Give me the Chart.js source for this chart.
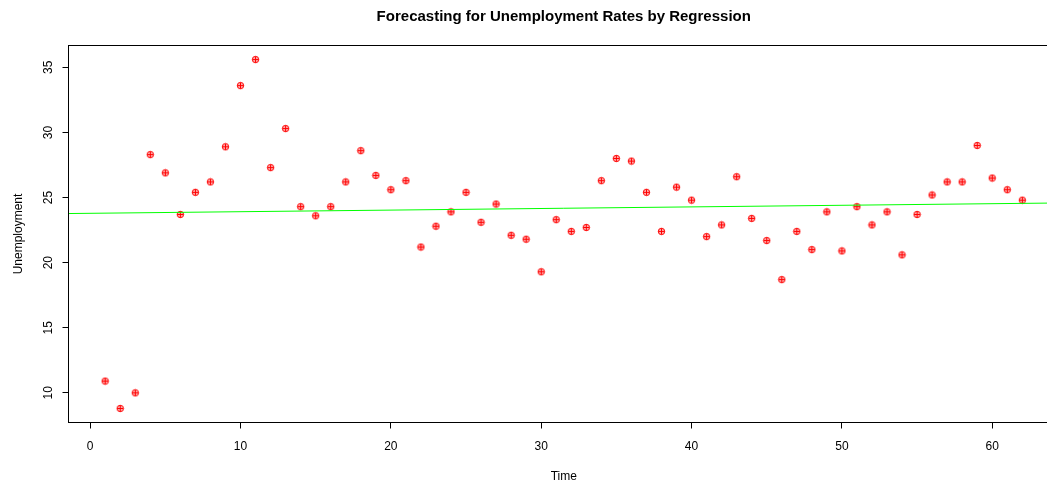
<!DOCTYPE html>
<html>
<head>
<meta charset="utf-8">
<script src="https://cdn.jsdelivr.net/npm/chart.js@4"></script>
<style>
  html, body { margin: 0; padding: 0; background: #fff; overflow: hidden; }
  #wrap { width: 1118px; height: 490px; }
</style>
</head>
<body>
<div id="wrap"><canvas id="chart" width="1118" height="490"></canvas></div>
<script>
// data
const time = [1, 2, 3, 4, 5, 6, 7, 8, 9, 10, 11, 12, 13, 14, 15, 16, 17, 18, 19, 20,
  21, 22, 23, 24, 25, 26, 27, 28, 29, 30, 31, 32, 33, 34, 35, 36, 37, 38, 39, 40,
  41, 42, 43, 44, 45, 46, 47, 48, 49, 50, 51, 52, 53, 54, 55, 56, 57, 58, 59, 60, 61, 62];
const unemployment = [10.9, 8.8, 10.0, 28.3, 26.9, 23.7, 25.4, 26.2, 28.9, 33.6,
  35.6, 27.3, 30.3, 24.3, 23.6, 24.3, 26.2, 28.6, 26.7, 25.6,
  26.3, 21.2, 22.8, 23.9, 25.4, 23.1, 24.5, 22.1, 21.8, 19.3,
  23.3, 22.4, 22.7, 26.3, 28.0, 27.8, 25.4, 22.4, 25.8, 24.8,
  22.0, 22.9, 26.6, 23.4, 21.7, 18.7, 22.4, 21.0, 23.9, 20.9,
  24.3, 22.9, 23.9, 20.6, 23.7, 25.2, 26.2, 26.2, 29.0, 26.5,
  25.6, 24.8];
const fitIntercept = 23.79;
const fitSlope = 0.0123;
const xTicks = [0, 10, 20, 30, 40, 50, 60];
const yTicks = [10, 15, 20, 25, 30, 35];
const xRange = [-1.44, 64.44];
const yRange = [7.72, 36.68];
const mainTitle = 'Forecasting for Unemployment Rates by Regression';

const pts = time.map((t, i) => ({x: t, y: unemployment[i]}));
const fitLine = xRange.map(x => ({x: x, y: fitIntercept + fitSlope * x}));

// circle-plus marker like pch=10
const mark = document.createElement('canvas');
mark.width = 9; mark.height = 9;
(function () {
  const c = mark.getContext('2d');
  c.strokeStyle = '#ff0000';
  c.fillStyle = 'rgba(255,0,0,0.3)';
  c.lineWidth = 1;
  c.beginPath(); c.arc(4.5, 4.5, 3.2, 0, Math.PI * 2); c.fill(); c.stroke();
  c.beginPath();
  c.moveTo(1.3, 4.5); c.lineTo(7.7, 4.5);
  c.moveTo(4.5, 1.3); c.lineTo(4.5, 7.7);
  c.stroke();
})();

const font = "'Liberation Sans', Arial, Helvetica, sans-serif";

// plot box + main title (R centres the title over the full plot region)
const boxPlugin = {
  id: 'box',
  afterDraw(chart) {
    const a = chart.chartArea, ctx = chart.ctx;
    ctx.save();
    ctx.strokeStyle = '#000';
    ctx.lineWidth = 1;
    ctx.strokeRect(a.left, a.top, a.right - a.left, a.bottom - a.top);
    ctx.fillStyle = '#000';
    ctx.font = 'bold 15px ' + font;
    ctx.textAlign = 'center';
    ctx.textBaseline = 'middle';
    ctx.fillText(mainTitle, (a.left + a.right) / 2, 16.7);
    ctx.restore();
  }
};

new Chart(document.getElementById('chart'), {
  type: 'scatter',
  data: {
    datasets: [
      {
        type: 'line',
        data: fitLine,
        borderColor: '#00ff00',
        borderWidth: 1,
        pointRadius: 0,
        tension: 0
      },
      {
        data: pts,
        pointStyle: mark,
        pointRadius: 4,
        pointHoverRadius: 4
      }
    ]
  },
  options: {
    responsive: false,
    animation: false,
    events: [],
    layout: { padding: { left: 0, right: 59, top: 45.5, bottom: 0 } },
    plugins: {
      legend: { display: false },
      tooltip: { enabled: false },
      title: { display: false }
    },
    scales: {
      x: {
        type: 'linear',
        min: xRange[0],
        max: xRange[1],
        afterFit: s => { s.height = 67.5; },
        afterBuildTicks: s => { s.ticks = xTicks.map(v => ({value: v})); },
        border: { display: false },
        grid: { drawOnChartArea: false, drawTicks: true, tickLength: 6, tickColor: '#000', lineWidth: 1 },
        ticks: { color: '#000', font: { family: font, size: 12 }, padding: 11, maxRotation: 0 },
        title: { display: true, text: 'Time', color: '#000', font: { family: font, size: 12 }, padding: { top: 0, bottom: 6.1 } }
      },
      y: {
        type: 'linear',
        min: yRange[0],
        max: yRange[1],
        afterFit: s => { s.width = 68.5; },
        afterBuildTicks: s => { s.ticks = yTicks.map(v => ({value: v})); },
        border: { display: false },
        grid: { drawOnChartArea: false, drawTicks: true, tickLength: 6, tickColor: '#000', lineWidth: 1 },
        ticks: { color: '#000', font: { family: font, size: 12 }, padding: 7, minRotation: 90, maxRotation: 90, crossAlign: 'center' },
        title: { display: true, text: 'Unemployment', color: '#000', font: { family: font, size: 12 }, padding: { top: 11.1, bottom: 0 } }
      }
    }
  },
  plugins: [boxPlugin]
});
</script>
</body>
</html>
